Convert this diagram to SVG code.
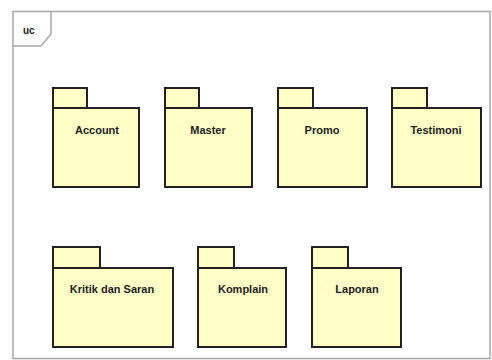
<svg xmlns="http://www.w3.org/2000/svg" width="492" height="360" viewBox="0 0 492 360">
<style>
.frame{fill:none;stroke:#a8a8a8;stroke-width:1.5}
.pkg{fill:#ffffc6;stroke:#222;stroke-width:2}
.lbl{font-family:"Liberation Sans",Arial,sans-serif;font-size:11px;font-weight:bold;fill:#222;text-anchor:middle}
.uc{font-family:"Liberation Sans",Arial,sans-serif;font-size:10px;font-weight:bold;fill:#222}
</style>
<rect width="492" height="360" fill="#ffffff"/>
<g id="frame">
<rect class="frame" x="13" y="11.5" width="477" height="347"/>
<path class="frame" d="M13 46 H41 L51 34 V11.5"/>
<text class="uc" x="23" y="34">uc</text>
</g>
<g id="account">
<rect class="pkg" x="53" y="88" width="34" height="20"/>
<rect class="pkg" x="53" y="108" width="86" height="79"/>
<text class="lbl" x="97" y="134">Account</text>
</g>
<g id="master">
<rect class="pkg" x="165" y="88" width="34" height="20"/>
<rect class="pkg" x="165" y="108" width="87" height="79"/>
<text class="lbl" x="208" y="134">Master</text>
</g>
<g id="promo">
<rect class="pkg" x="278" y="88" width="35" height="20"/>
<rect class="pkg" x="278" y="108" width="89" height="79"/>
<text class="lbl" x="322" y="134">Promo</text>
</g>
<g id="testimoni">
<rect class="pkg" x="392" y="88" width="35" height="20"/>
<rect class="pkg" x="392" y="108" width="89" height="79"/>
<text class="lbl" x="436" y="134">Testimoni</text>
</g>
<g id="kritik">
<rect class="pkg" x="53" y="247" width="47" height="21"/>
<rect class="pkg" x="53" y="268" width="120" height="79"/>
<text class="lbl" x="112" y="293">Kritik dan Saran</text>
</g>
<g id="komplain">
<rect class="pkg" x="198" y="247" width="36" height="21"/>
<rect class="pkg" x="198" y="268" width="88" height="79"/>
<text class="lbl" x="243" y="293">Komplain</text>
</g>
<g id="laporan">
<rect class="pkg" x="312" y="247" width="36" height="21"/>
<rect class="pkg" x="312" y="268" width="89" height="79"/>
<text class="lbl" x="357" y="293">Laporan</text>
</g>
<g id="connectors"></g>
</svg>
